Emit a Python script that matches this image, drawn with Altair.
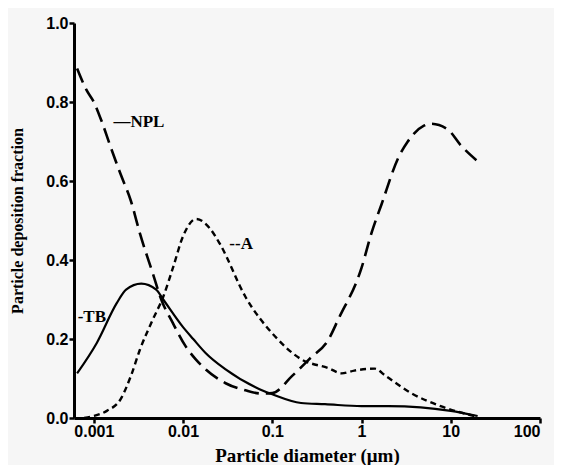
import altair as alt
import pandas as pd

# NPL (long dashes)
npl_x = [0.00065, 0.00083, 0.001, 0.00123, 0.00155, 0.002, 0.0026, 0.0033, 0.0046, 0.0057, 0.0077, 0.0108, 0.0138, 0.018, 0.03, 0.05, 0.075, 0.1, 0.166, 0.26, 0.43, 0.55, 1.0, 1.3, 1.67, 2.6, 3.3, 5.0, 6.0, 9.3, 13.0, 20.0]
npl_y = [0.885, 0.83, 0.80, 0.75, 0.685, 0.617, 0.55, 0.466, 0.365, 0.30, 0.24, 0.18, 0.149, 0.123, 0.088, 0.07, 0.062, 0.063, 0.106, 0.149, 0.20, 0.25, 0.38, 0.47, 0.54, 0.66, 0.70, 0.74, 0.745, 0.73, 0.69, 0.65]

# A (short dashes)
a_x = [0.00078, 0.001, 0.0014, 0.002, 0.0026, 0.0033, 0.0046, 0.006, 0.0077, 0.01, 0.014, 0.02, 0.026, 0.05, 0.107, 0.21, 0.43, 0.6, 0.83, 1.4, 1.9, 3.6, 7.7, 20.0]
a_y = [0.0, 0.005, 0.018, 0.048, 0.106, 0.174, 0.25, 0.307, 0.38, 0.46, 0.504, 0.48, 0.44, 0.307, 0.207, 0.149, 0.126, 0.113, 0.12, 0.125, 0.105, 0.063, 0.03, 0.003]

# TB (solid)
tb_x = [0.00065, 0.00108, 0.0018, 0.0023, 0.0034, 0.005, 0.006, 0.01, 0.013, 0.018, 0.03, 0.072, 0.1, 0.21, 0.39, 1.0, 2.0, 4.6, 10.0, 20.0]
tb_y = [0.113, 0.19, 0.29, 0.325, 0.34, 0.325, 0.30, 0.23, 0.20, 0.164, 0.123, 0.073, 0.06, 0.038, 0.035, 0.03, 0.03, 0.027, 0.018, 0.005]

label_text = ["\u2014NPL", "--A", "-TB"]
label_x = [0.00166, 0.033, 0.00066]
label_y = [0.75, 0.44, 0.255]

rows = []
for name, xs, ys in [("NPL", npl_x, npl_y), ("A", a_x, a_y), ("TB", tb_x, tb_y)]:
    for i, (x, y) in enumerate(zip(xs, ys)):
        rows.append({"series": name, "d": x, "f": y, "order": i})
df = pd.DataFrame(rows)
lab = pd.DataFrame({"text": label_text, "d": label_x, "f": label_y})

xscale = alt.Scale(type="log", domain=[0.0006, 100], nice=False)
yscale = alt.Scale(domain=[0, 1], nice=False)

xaxis = alt.Axis(
    title="Particle diameter (\u03bcm)",
    values=[0.001, 0.01, 0.1, 1, 10, 100],
    format="~g",
    grid=False,
    labelPadding=0,
    titlePadding=7,
    titleFontSize=19,
)
yaxis = alt.Axis(
    title="Particle deposition fraction",
    values=[0, 0.1, 0.2, 0.3, 0.4, 0.5, 0.6, 0.7, 0.8, 0.9, 1.0],
    labelExpr="round(datum.value*10) % 2 == 0 ? format(datum.value, '.1f') : ''",
    grid=False,
    labelPadding=1,
    titlePadding=20,
    titleFontSize=16,
)

base = alt.Chart(df).encode(
    x=alt.X("d:Q", scale=xscale, axis=xaxis),
    y=alt.Y("f:Q", scale=yscale, axis=yaxis),
    order="order:Q",
)

npl = base.transform_filter(alt.datum.series == "NPL").mark_line(
    color="black", strokeWidth=2.6, strokeDash=[15, 7], interpolate="monotone")
a = base.transform_filter(alt.datum.series == "A").mark_line(
    color="black", strokeWidth=2.4, strokeDash=[6, 4], interpolate="monotone")
tb = base.transform_filter(alt.datum.series == "TB").mark_line(
    color="black", strokeWidth=2.2, interpolate="monotone")

labels = alt.Chart(lab).mark_text(
    align="left", baseline="middle", font="Liberation Serif", fontWeight="bold",
    fontSize=17, color="black"
).encode(x=alt.X("d:Q", scale=xscale), y=alt.Y("f:Q", scale=yscale), text="text:N")

chart = alt.layer(npl, a, tb, labels).properties(
    width=466, height=395, background="#f6f6f6",
    autosize=alt.AutoSizeParams(type="none"),
    padding={"left": 66, "top": 15, "right": 14, "bottom": 47},
).configure_view(stroke=None).configure_axis(
    domainWidth=3, domainColor="black", tickColor="black", tickWidth=2.5, tickSize=5,
    labelFont="Liberation Sans", labelFontWeight="bold", labelFontSize=16, labelColor="black",
    titleFont="Liberation Serif", titleFontWeight="bold", titleColor="black",
)

chart.save("out.html", embed_options={"renderer": "svg", "actions": False})
